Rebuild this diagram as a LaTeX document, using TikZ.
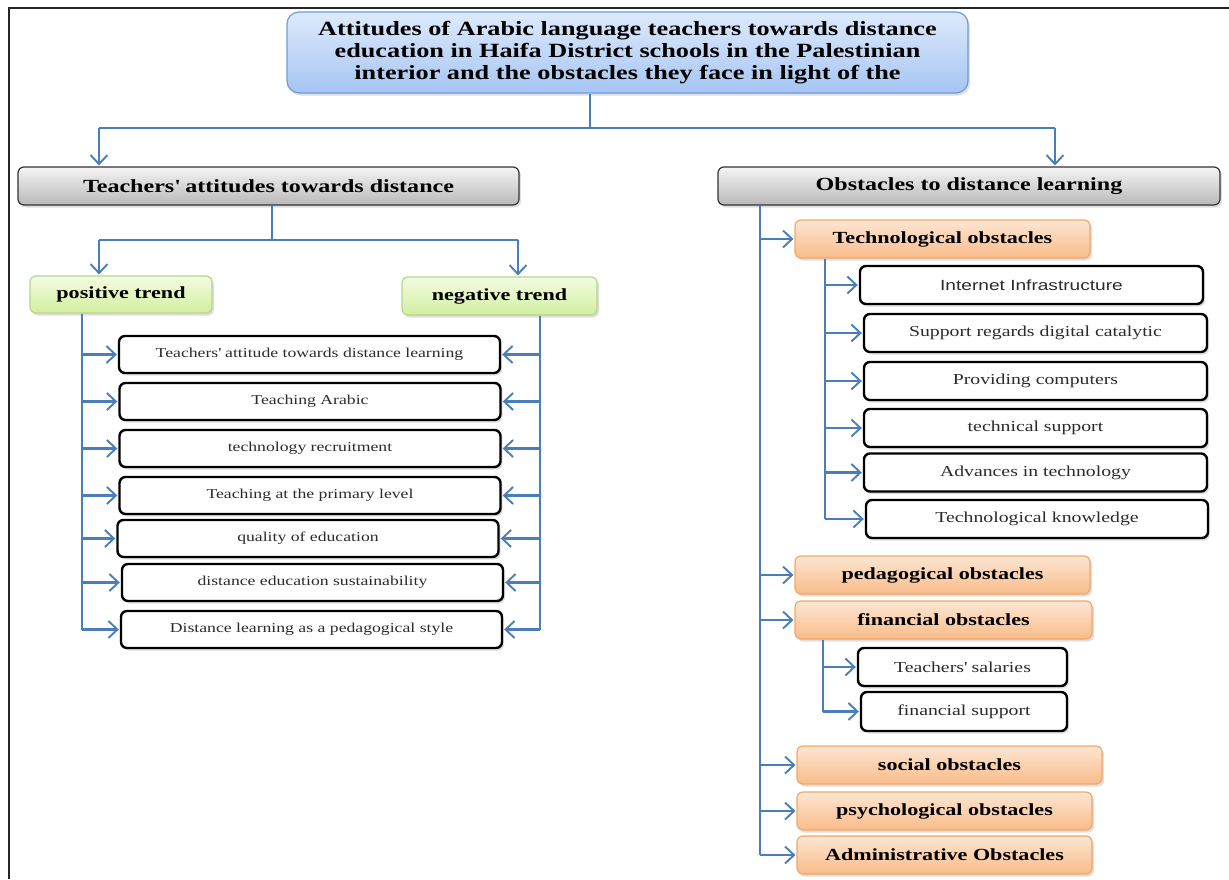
\documentclass[tikz,border=0pt]{standalone}
\usepackage{fontspec}
\setmainfont{Liberation Serif}[FakeStretch=1.3]
\newfontfamily\sansf{Liberation Sans}[FakeStretch=1.3]
\usetikzlibrary{arrows.meta,shadows}
\definecolor{lnblue}{HTML}{4A7EBB}
\definecolor{titletop}{HTML}{DDEAFC}
\definecolor{titlebot}{HTML}{A6C5F3}
\definecolor{titledraw}{HTML}{6F9BD8}
\definecolor{greytop}{HTML}{F4F4F4}
\definecolor{greybot}{HTML}{B9B9B9}
\definecolor{greentop}{HTML}{F4FCE2}
\definecolor{greenbot}{HTML}{D2EFA0}
\definecolor{greendraw}{HTML}{B3D78A}
\definecolor{orangetop}{HTML}{FDE6D3}
\definecolor{orangebot}{HTML}{F9BC8A}
\definecolor{orangedraw}{HTML}{F2A766}
\definecolor{itemtext}{HTML}{2B2B2B}
\newcommand\ttlfont{\fontsize{20.2}{22}\bfseries\selectfont}
\newcommand\hdfont{\fontsize{18.5}{20}\bfseries\selectfont}
\newcommand\trfont{\fontsize{17}{19}\bfseries\selectfont}
\newcommand\obfont{\fontsize{17}{19}\bfseries\selectfont}
\newcommand\itfont{\fontsize{13.6}{15}\selectfont}
\newcommand\rifont{\fontsize{15.2}{17}\selectfont}
\newcommand\q{\textquotesingle}
\tikzset{
  shad/.style={drop shadow={opacity=0.25,shadow xshift=2pt,shadow yshift=-2.5pt}},
  titlebox/.style={shad,rounded corners=12pt,top color=titletop,bottom color=titlebot,draw=titledraw,line width=1.2pt,minimum width=681pt,minimum height=81pt,align=center,font=\ttlfont},
  headbox/.style={shad,rounded corners=6pt,top color=greytop,bottom color=greybot,draw=black!80,line width=1.2pt,minimum width=501pt,minimum height=38pt,font=\hdfont},
  trendbox/.style={shad,rounded corners=6pt,top color=greentop,bottom color=greenbot,draw=greendraw,line width=1.2pt,minimum height=37pt,font=\trfont},
  obbox/.style={shad,rounded corners=6pt,top color=orangetop,bottom color=orangebot,draw=orangedraw,line width=1.2pt,minimum width=295pt,minimum height=38pt,font=\obfont},
  itembox/.style={shad,rounded corners=6pt,fill=white,draw=black,line width=2.4pt,minimum width=381pt,minimum height=37pt,font=\itfont,text=itemtext},
  ribox/.style={itembox,minimum width=343pt,minimum height=38pt,font=\rifont},
  conn/.style={draw=lnblue,line width=2.3pt},
  arr/.style={conn,-{Straight Barb[length=9pt,width=17pt,line width=1.9pt]},shorten >=1pt},
}
\begin{document}
\begin{tikzpicture}[x=1pt,y=-1pt]
\useasboundingbox (0,0) rectangle (1229,879);
\draw[line width=2.5pt,black!85] (1229,8) -- (9,8) -- (9,879);

\node[titlebox] (title) at (627.5,52.5) {Attitudes of Arabic language teachers towards distance\\education in Haifa District schools in the Palestinian\\interior and the obstacles they face in light of the};

\node[headbox] (lh) at (268.5,186) {Teachers\q{} attitudes towards distance};
\node[headbox,minimum width=502pt] (rh) at (969,186) {Obstacles to distance learning};

\node[trendbox,minimum width=182pt] (pos) at (121,294.5) {positive trend};
\node[trendbox,minimum width=195pt,minimum height=38pt] (neg) at (499.5,296) {negative trend};

\node[itembox] (l1) at (309.5,354.5) {Teachers\q{} attitude towards distance learning};
\node[itembox] (l2) at (310,401.5) {Teaching Arabic};
\node[itembox] (l3) at (310,448.5) {technology recruitment};
\node[itembox] (l4) at (310,495.5) {Teaching at the primary level};
\node[itembox] (l5) at (308,538.5) {quality of education};
\node[itembox] (l6) at (312.5,582.5) {distance education sustainability};
\node[itembox] (l7) at (311.5,629.5) {Distance learning as a pedagogical style};

\node[obbox] (tech) at (942.5,239) {Technological obstacles};
\node[ribox,font=\sansf\fontsize{14.7}{16}\selectfont] (r1) at (1031.5,285) {Internet Infrastructure};
\node[ribox] (r2) at (1035.5,333) {Support regards digital catalytic};
\node[ribox] (r3) at (1035.5,381) {Providing computers};
\node[ribox] (r4) at (1035.5,428) {technical support};
\node[ribox] (r5) at (1035.5,472.5) {Advances in technology};
\node[ribox,minimum width=342pt] (r6) at (1037,519) {Technological knowledge};
\node[obbox] (ped) at (942.5,575) {pedagogical obstacles};
\node[obbox,minimum width=297pt] (fin) at (943.5,620) {financial obstacles};
\node[ribox,minimum width=209pt] (f1) at (962.5,667) {Teachers\q{} salaries};
\node[ribox,minimum width=206pt,minimum height=39pt] (f2) at (964,711.5) {financial support};
\node[obbox,minimum width=305pt] (soc) at (949.5,765) {social obstacles};
\node[obbox] (psy) at (944.5,811) {psychological obstacles};
\node[obbox] (adm) at (944.5,855) {Administrative Obstacles};

% top level connectors
\coordinate (tJ) at (590,128);
\coordinate (aL) at (99,128);
\coordinate (aR) at (1055,128);
\draw[conn] (title.south -| tJ) -- (tJ);
\draw[conn] (aL) -- (aR);
\draw[arr] (aL) -- (aL |- lh.north);
\draw[arr] (aR) -- (aR |- rh.north);

% left header to trends
\coordinate (lJ) at (272,240);
\coordinate (bL) at (99,240);
\coordinate (bR) at (518,240);
\draw[conn] (lh.south -| lJ) -- (lJ);
\draw[conn] (bL) -- (bR);
\draw[arr] (bL) -- (bL |- pos.north);
\draw[arr] (bR) -- (bR |- neg.north);

% positive trunk
\coordinate (pT) at (82,0);
\draw[conn] (pos.south -| pT) -- (l7.west -| pT);
\foreach \n in {l1,l2,l3,l4,l5,l6,l7} \draw[arr] (\n.west -| pT) -- (\n.west);
% negative trunk
\coordinate (nT) at (540,0);
\draw[conn] (neg.south -| nT) -- (l7.east -| nT);
\foreach \n in {l1,l2,l3,l4,l5,l6,l7} \draw[arr] (\n.east -| nT) -- (\n.east);

% right trunk
\coordinate (rT) at (760,0);
\draw[conn] (rh.south -| rT) -- (adm.west -| rT);
\foreach \n in {tech,ped,fin,soc,psy,adm} \draw[arr] (\n.west -| rT) -- (\n.west);
\coordinate (tT) at (825,0);
\draw[conn] (tech.south -| tT) -- (r6.west -| tT);
\foreach \n in {r1,r2,r3,r4,r5,r6} \draw[arr] (\n.west -| tT) -- (\n.west);
\coordinate (fT) at (823,0);
\draw[conn] (fin.south -| fT) -- (f2.west -| fT);
\foreach \n in {f1,f2} \draw[arr] (\n.west -| fT) -- (\n.west);
\end{tikzpicture}
\end{document}
